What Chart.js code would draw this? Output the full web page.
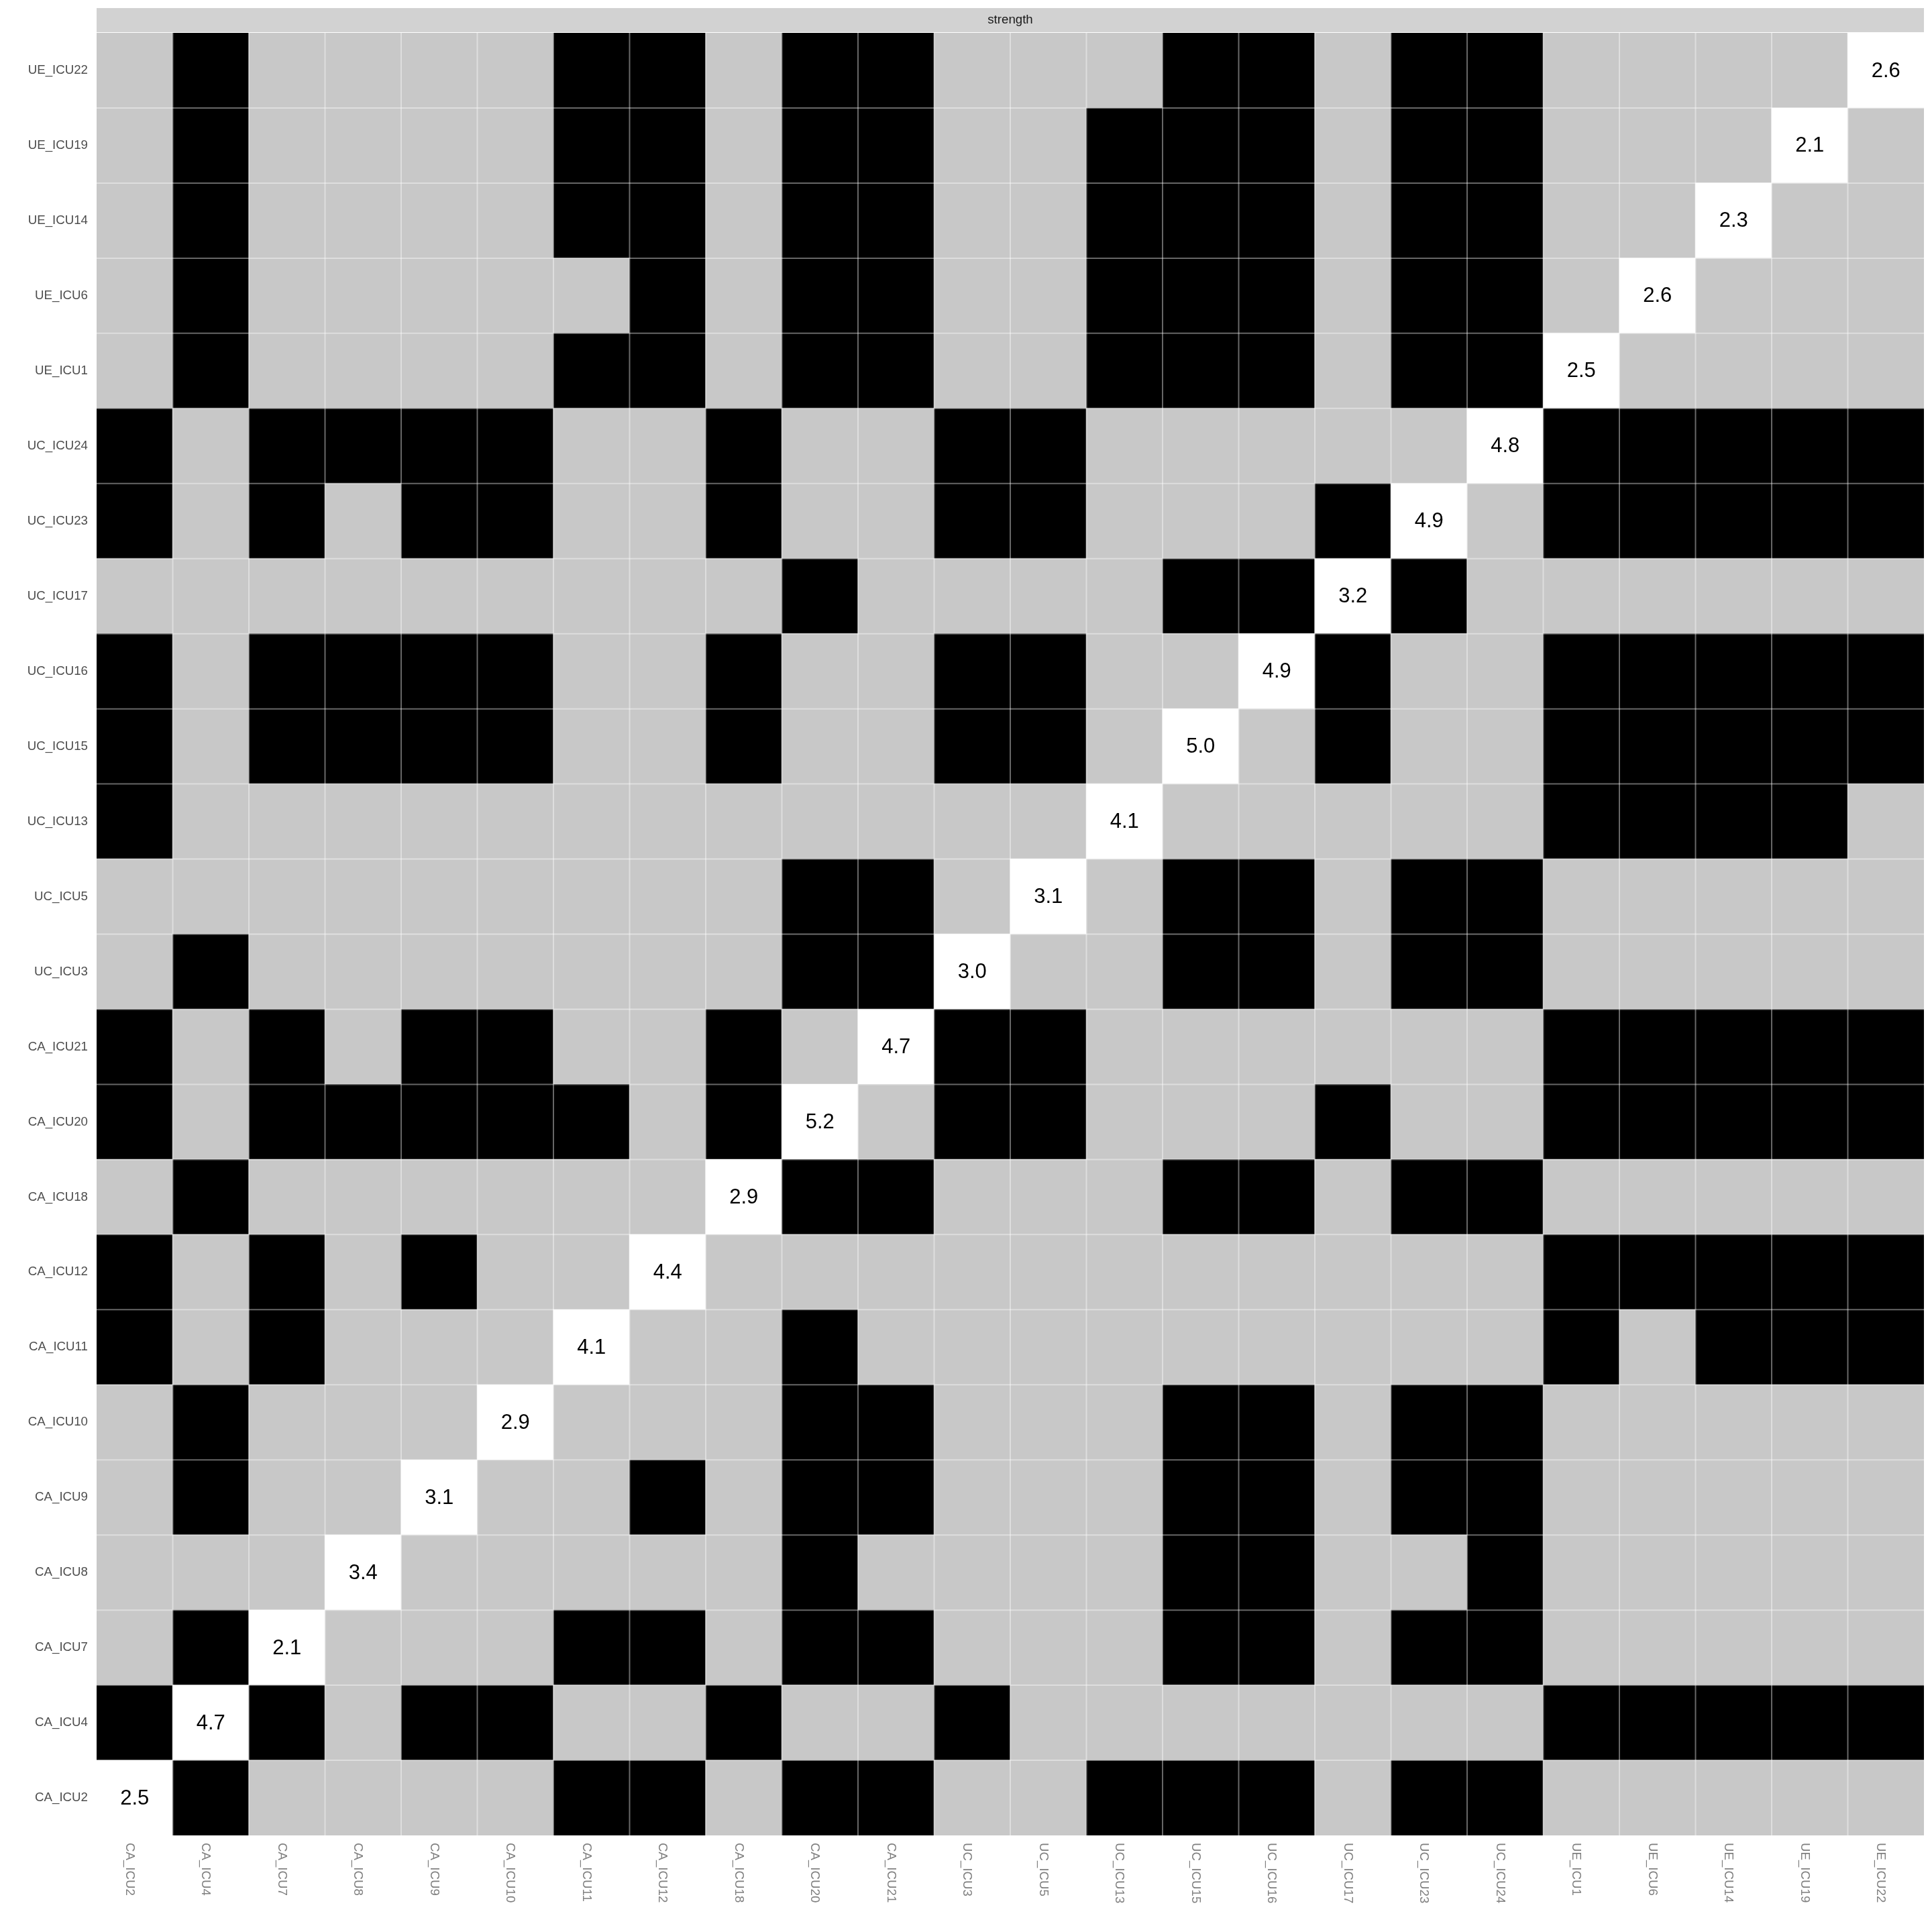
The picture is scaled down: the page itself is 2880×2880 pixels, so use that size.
<!DOCTYPE html>
<html><head><meta charset="utf-8">
<script src="https://cdn.jsdelivr.net/npm/chart.js@4/dist/chart.umd.min.js"></script>
<style>html,body{margin:0;padding:0;background:#fff}</style>
</head><body>
<canvas id="c" width="2880" height="2880" style="width:2880px;height:2880px;display:block"></canvas>
<script>
const categories = ['CA_ICU2','CA_ICU4','CA_ICU7','CA_ICU8','CA_ICU9','CA_ICU10','CA_ICU11','CA_ICU12','CA_ICU18','CA_ICU20','CA_ICU21','UC_ICU3','UC_ICU5','UC_ICU13','UC_ICU15','UC_ICU16','UC_ICU17','UC_ICU23','UC_ICU24','UE_ICU1','UE_ICU6','UE_ICU14','UE_ICU19','UE_ICU22'];
const stripLabel = 'strength';
const strengthValues = [2.5,4.7,2.1,3.4,3.1,2.9,4.1,4.4,2.9,5.2,4.7,3.0,3.1,4.1,5.0,4.9,3.2,4.9,4.8,2.5,2.6,2.3,2.1,2.6];
// 1 = black, 0 = grey; row order = categories (bottom to top), column order = categories
const rowCodes = [
  [0,1,0,0,0,0,1,1,0,1,1,0,0,1,1,1,0,1,1,0,0,0,0,0], // CA_ICU2
  [1,0,1,0,1,1,0,0,1,0,0,1,0,0,0,0,0,0,0,1,1,1,1,1], // CA_ICU4
  [0,1,0,0,0,0,1,1,0,1,1,0,0,0,1,1,0,1,1,0,0,0,0,0], // CA_ICU7
  [0,0,0,0,0,0,0,0,0,1,0,0,0,0,1,1,0,0,1,0,0,0,0,0], // CA_ICU8
  [0,1,0,0,0,0,0,1,0,1,1,0,0,0,1,1,0,1,1,0,0,0,0,0], // CA_ICU9
  [0,1,0,0,0,0,0,0,0,1,1,0,0,0,1,1,0,1,1,0,0,0,0,0], // CA_ICU10
  [1,0,1,0,0,0,0,0,0,1,0,0,0,0,0,0,0,0,0,1,0,1,1,1], // CA_ICU11
  [1,0,1,0,1,0,0,0,0,0,0,0,0,0,0,0,0,0,0,1,1,1,1,1], // CA_ICU12
  [0,1,0,0,0,0,0,0,0,1,1,0,0,0,1,1,0,1,1,0,0,0,0,0], // CA_ICU18
  [1,0,1,1,1,1,1,0,1,0,0,1,1,0,0,0,1,0,0,1,1,1,1,1], // CA_ICU20
  [1,0,1,0,1,1,0,0,1,0,0,1,1,0,0,0,0,0,0,1,1,1,1,1], // CA_ICU21
  [0,1,0,0,0,0,0,0,0,1,1,0,0,0,1,1,0,1,1,0,0,0,0,0], // UC_ICU3
  [0,0,0,0,0,0,0,0,0,1,1,0,0,0,1,1,0,1,1,0,0,0,0,0], // UC_ICU5
  [1,0,0,0,0,0,0,0,0,0,0,0,0,0,0,0,0,0,0,1,1,1,1,0], // UC_ICU13
  [1,0,1,1,1,1,0,0,1,0,0,1,1,0,0,0,1,0,0,1,1,1,1,1], // UC_ICU15
  [1,0,1,1,1,1,0,0,1,0,0,1,1,0,0,0,1,0,0,1,1,1,1,1], // UC_ICU16
  [0,0,0,0,0,0,0,0,0,1,0,0,0,0,1,1,0,1,0,0,0,0,0,0], // UC_ICU17
  [1,0,1,0,1,1,0,0,1,0,0,1,1,0,0,0,1,0,0,1,1,1,1,1], // UC_ICU23
  [1,0,1,1,1,1,0,0,1,0,0,1,1,0,0,0,0,0,0,1,1,1,1,1], // UC_ICU24
  [0,1,0,0,0,0,1,1,0,1,1,0,0,1,1,1,0,1,1,0,0,0,0,0], // UE_ICU1
  [0,1,0,0,0,0,0,1,0,1,1,0,0,1,1,1,0,1,1,0,0,0,0,0], // UE_ICU6
  [0,1,0,0,0,0,1,1,0,1,1,0,0,1,1,1,0,1,1,0,0,0,0,0], // UE_ICU14
  [0,1,0,0,0,0,1,1,0,1,1,0,0,1,1,1,0,1,1,0,0,0,0,0], // UE_ICU19
  [0,1,0,0,0,0,1,1,0,1,1,0,0,0,1,1,0,1,1,0,0,0,0,0]  // UE_ICU22
];
const codeColors = ['#C8C8C8', '#000000'];
const diagColor = '#FFFFFF';
const FONT = '"Liberation Sans", Arial, Helvetica, sans-serif';

const datasets = categories.map((rowName, r) => ({
  label: rowName,
  data: categories.map(() => [r - 0.5, r + 0.5]),
  backgroundColor: categories.map((_, c) => r === c ? diagColor : codeColors[rowCodes[r][c]]),
  borderWidth: 0,
  barPercentage: 1,
  categoryPercentage: 1,
  grouped: false
}));

const decor = {
  id: 'decor',
  afterDatasetsDraw(chart) {
    const ctx = chart.ctx, xs = chart.scales.x, ys = chart.scales.y, a = chart.chartArea;
    ctx.save();
    ctx.strokeStyle = 'rgba(255,255,255,0.4)';
    ctx.lineWidth = 2;
    for (let k = 1; k < categories.length; k++) {
      const x = xs.getPixelForValue(k - 0.5);
      ctx.beginPath(); ctx.moveTo(x, a.top); ctx.lineTo(x, a.bottom); ctx.stroke();
      const y = ys.getPixelForValue(k - 0.5);
      ctx.beginPath(); ctx.moveTo(a.left, y); ctx.lineTo(a.right, y); ctx.stroke();
    }
    ctx.fillStyle = '#000000';
    ctx.font = '31px ' + FONT;
    ctx.textAlign = 'center';
    ctx.textBaseline = 'middle';
    strengthValues.forEach((v, i) => {
      ctx.fillText(v.toFixed(1), xs.getPixelForValue(i), ys.getPixelForValue(i) + 1);
    });
    ctx.restore();
  },
  afterDraw(chart) {
    const ctx = chart.ctx, xs = chart.scales.x, a = chart.chartArea;
    ctx.save();
    ctx.fillStyle = '#D2D2D2';
    ctx.fillRect(a.left, 12, a.right - a.left, a.top - 1 - 12);
    ctx.fillStyle = '#1A1A1A';
    ctx.font = '18.7px ' + FONT;
    ctx.textAlign = 'center';
    ctx.textBaseline = 'middle';
    ctx.fillText(stripLabel, (a.left + a.right) / 2, (12 + a.top - 1) / 2);
    ctx.fillStyle = '#7F7F7F';
    ctx.font = '18.7px ' + FONT;
    ctx.textAlign = 'left';
    ctx.textBaseline = 'alphabetic';
    categories.forEach((lab, i) => {
      const x = xs.getPixelForValue(i);
      ctx.save();
      ctx.translate(x - 13, a.bottom + 11);
      ctx.rotate(Math.PI / 2);
      ctx.fillText(lab, 0, 0);
      ctx.restore();
    });
    ctx.restore();
  }
};

new Chart(document.getElementById('c'), {
  type: 'bar',
  data: { labels: categories, datasets },
  options: {
    responsive: false,
    animation: false,
    events: [],
    layout: { padding: { top: 49, right: 12, left: 0, bottom: 0 } },
    plugins: { legend: { display: false }, tooltip: { enabled: false } },
    scales: {
      x: {
        type: 'category',
        offset: true,
        grid: { display: false },
        border: { display: false },
        ticks: { display: false },
        afterFit: s => { s.height = 144; }
      },
      y: {
        type: 'linear',
        min: -0.5,
        max: 23.5,
        grid: { display: false, drawTicks: false },
        border: { display: false },
        afterBuildTicks: s => { s.ticks = categories.map((_, i) => ({ value: i })); },
        afterFit: s => { s.width = 144; },
        ticks: {
          padding: 13,
          color: '#4D4D4D',
          font: { family: FONT, size: 18.7 },
          callback: v => categories[v]
        }
      }
    }
  },
  plugins: [decor]
});
</script>
</body></html>
